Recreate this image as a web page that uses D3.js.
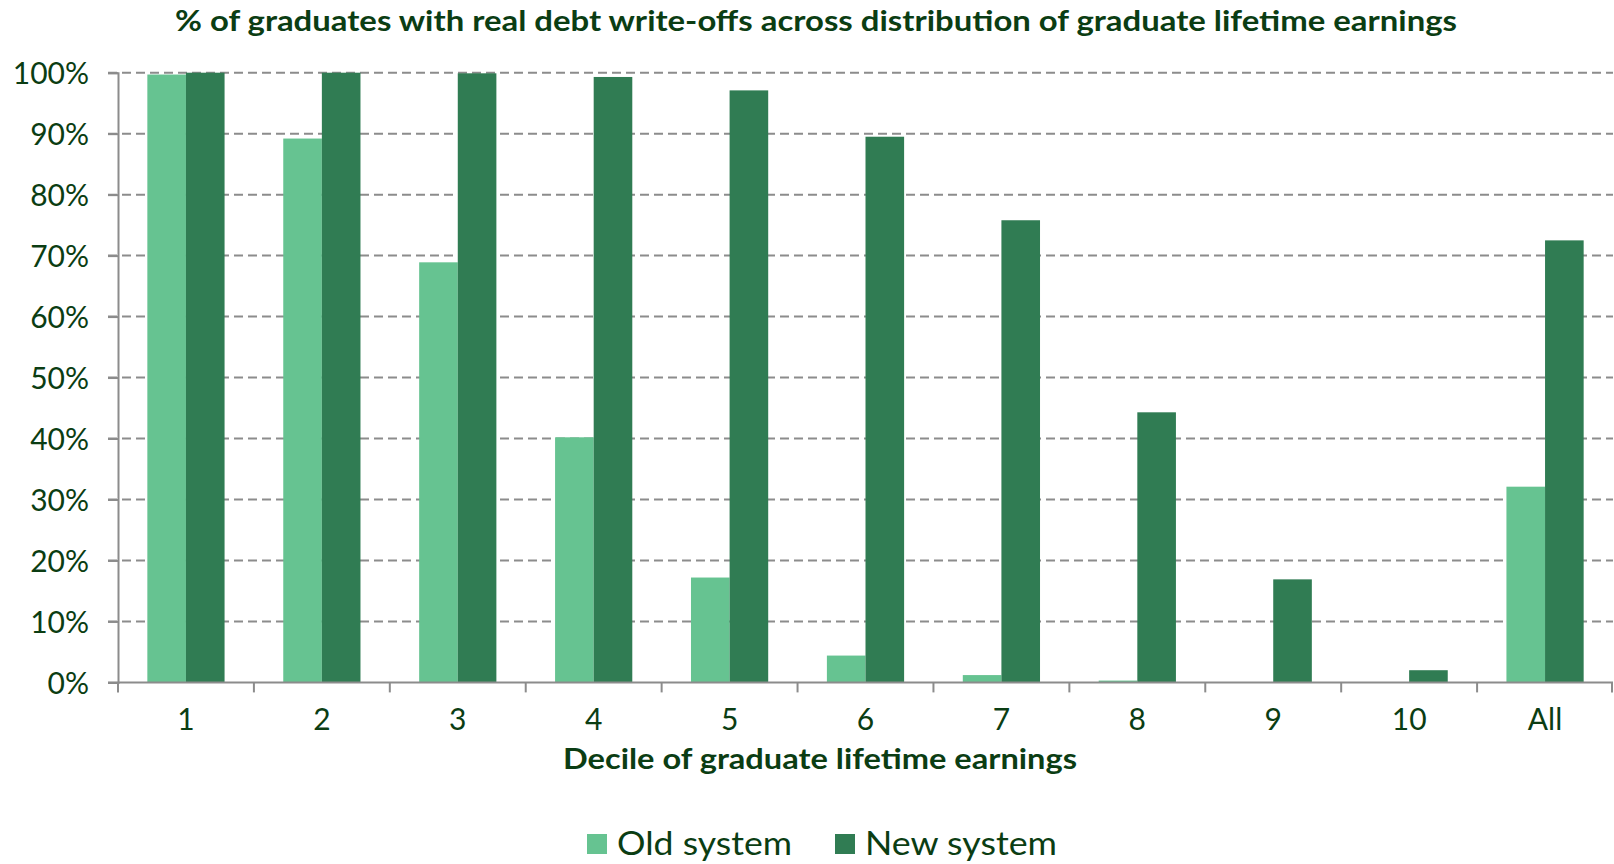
<!DOCTYPE html>
<html>
<head>
<meta charset="utf-8">
<script src="https://cdn.jsdelivr.net/npm/d3@7"></script>
<style>
  html, body { margin: 0; padding: 0; background: #fff; }
  svg { display: block; }
  text { font-family: Lato, "Open Sans", sans-serif; fill: #0b3d13; }
</style>
</head>
<body>
<svg id="chart" width="1614" height="864"></svg>
<script>
const categories = ["1", "2", "3", "4", "5", "6", "7", "8", "9", "10", "All"];
const seriesNames = ["Old system", "New system"];
const oldSystem = [99.7, 89.2, 68.9, 40.2, 17.2, 4.4, 1.2, 0.3, 0, 0, 32.1];
const newSystem = [100, 100, 99.9, 99.3, 97.1, 89.5, 75.8, 44.3, 16.9, 2.0, 72.5];
const yTicks = [0, 10, 20, 30, 40, 50, 60, 70, 80, 90, 100];
const colors = ["#66c391", "#307c53"];
const titleText = "% of graduates with real debt write-offs across distribution of graduate lifetime earnings";
const xTitleText = "Decile of graduate lifetime earnings";

const svg = d3.select("#chart");
const plotLeft = 118, plotRight = 1613, plotTop = 72.7, plotBottom = 682.4;

const x0 = d3.scaleBand().domain(categories).range([plotLeft, plotRight]).padding(0);
const x1 = d3.scaleBand().domain(seriesNames).range([0, x0.bandwidth()]).paddingInner(0).paddingOuter(0.76);
const y = d3.scaleLinear().domain([0, 100]).range([plotBottom, plotTop]);

function fit(sel, w) {
  const n = sel.node().getComputedTextLength();
  if (Math.abs(n - w) > 1) sel.attr("textLength", w).attr("lengthAdjust", "spacingAndGlyphs");
}

// Title
const t = svg.append("text").attr("x", 816).attr("y", 31).attr("text-anchor", "middle")
  .style("font-size", "28px").style("font-weight", "bold").text(titleText);
fit(t, 1282);

// Gridlines
svg.append("g").selectAll("line").data(yTicks.filter(d => d > 0)).join("line")
  .attr("x1", plotLeft - 10).attr("x2", plotRight)
  .attr("y1", d => y(d)).attr("y2", d => y(d))
  .attr("stroke", "#8c8c8c").attr("stroke-width", 2).attr("stroke-dasharray", "9,5");

// Bars
const data = categories.map((c, i) => ({ c, vals: [oldSystem[i], newSystem[i]] }));
svg.append("g").selectAll("g").data(data).join("g")
  .attr("transform", d => `translate(${x0(d.c)},0)`)
  .selectAll("rect").data(d => d.vals.map((v, j) => ({ v, s: seriesNames[j], j })))
  .join("rect")
  .attr("x", d => x1(d.s)).attr("width", x1.bandwidth())
  .attr("y", d => y(d.v)).attr("height", d => plotBottom - y(d.v))
  .attr("fill", d => colors[d.j]);

// Y axis
const yAxis = svg.append("g").attr("transform", `translate(${plotLeft},0)`)
  .call(d3.axisLeft(y).tickValues(yTicks).tickFormat(d => d + "%").tickSize(10).tickPadding(19));
yAxis.select(".domain").attr("stroke", "#8c8c8c").attr("stroke-width", 2);
yAxis.selectAll(".tick line").attr("stroke", "#8c8c8c").attr("stroke-width", 2);
yAxis.selectAll(".tick text").style("font-size", "30px").style("font-family", "Lato, sans-serif")
  .attr("fill", "#0b3d13").attr("dy", "0.36em");

// X axis
const xAxis = svg.append("g").attr("transform", `translate(0,${plotBottom})`)
  .call(d3.axisBottom(x0).tickSize(0).tickPadding(48));
xAxis.select(".domain").remove();
xAxis.selectAll(".tick text").style("font-size", "30px").style("font-family", "Lato, sans-serif")
  .attr("fill", "#0b3d13").attr("dy", "0");
svg.append("line").attr("x1", plotLeft - 10).attr("x2", plotRight).attr("y1", plotBottom).attr("y2", plotBottom)
  .attr("stroke", "#8c8c8c").attr("stroke-width", 2);
const bounds = categories.map(c => x0(c)).concat([plotRight - 1]);
svg.append("g").selectAll("line").data(bounds).join("line")
  .attr("x1", d => d).attr("x2", d => d).attr("y1", plotBottom).attr("y2", plotBottom + 10)
  .attr("stroke", "#8c8c8c").attr("stroke-width", 2);

// X title
const xt = svg.append("text").attr("x", 820).attr("y", 769).attr("text-anchor", "middle")
  .style("font-size", "28px").style("font-weight", "bold").text(xTitleText);
fit(xt, 514);

// Legend
const legendX = [587, 835];
const legendW = [175, 192];
const lg = svg.append("g").selectAll("g").data(seriesNames).join("g");
lg.append("rect").attr("x", (d, i) => legendX[i]).attr("y", 834).attr("width", 20).attr("height", 20)
  .attr("fill", (d, i) => colors[i]);
lg.append("text").attr("x", (d, i) => legendX[i] + 30).attr("y", 855)
  .style("font-size", "33px").text(d => d)
  .each(function(d, i) { fit(d3.select(this), legendW[i]); });
</script>
</body>
</html>
